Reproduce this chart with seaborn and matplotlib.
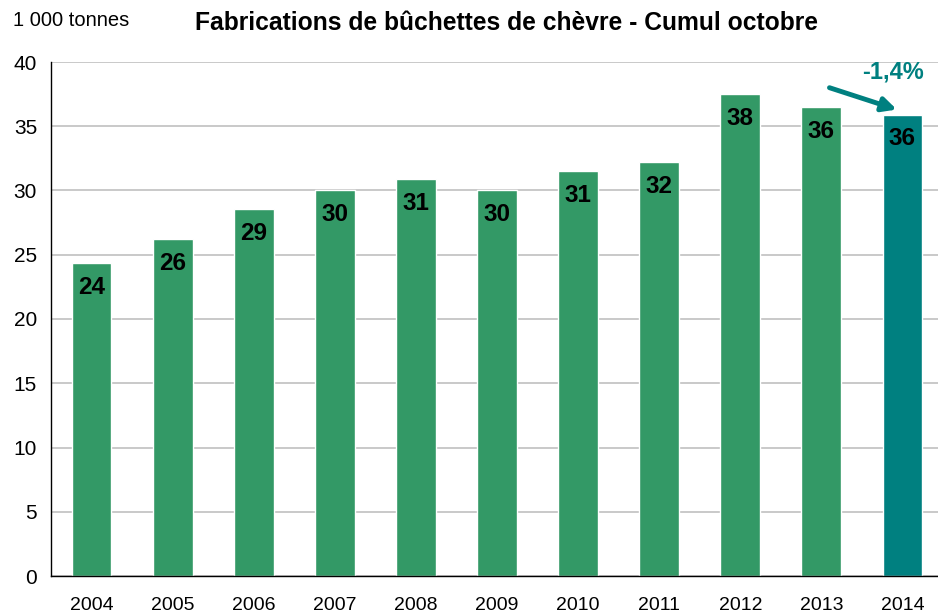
import matplotlib
matplotlib.use("Agg")
import matplotlib.pyplot as plt
import seaborn as sns
import pandas as pd

years = ["2004", "2005", "2006", "2007", "2008", "2009", "2010", "2011", "2012", "2013", "2014"]
values = [24.35, 26.2, 28.55, 30.0, 30.9, 30.0, 31.5, 32.2, 37.5, 36.5, 35.9]
labels = ["24", "26", "29", "30", "31", "30", "31", "32", "38", "36", "36"]
colors = ["#339966"] * 10 + ["#008080"]

sns.set_theme(style="white")
plt.rcParams['font.family'] = ['Liberation Sans', 'DejaVu Sans']

df = pd.DataFrame({"year": years, "value": values})
fig = plt.figure(figsize=(9.38, 6.16), dpi=100)
ax = fig.add_axes([51/938, 1 - 576/616, 892/938, (576 - 62)/616])

sns.barplot(data=df, x="year", y="value", hue="year", palette=colors,
            width=0.49, legend=False, ax=ax, saturation=1)

ax.set_ylim(0, 40)
ax.set_xlim(-0.5, 10.5)
ax.set_yticks(range(0, 41, 5))
ax.yaxis.grid(True, color="#c0c0c0", linewidth=1.2)
ax.set_axisbelow(True)
ax.set_xlabel("")
ax.set_ylabel("")
for s in ["top", "right"]:
    ax.spines[s].set_visible(False)
ax.spines["left"].set_color("black")
ax.spines["bottom"].set_color("black")
ax.spines["left"].set_linewidth(1)
ax.spines["bottom"].set_linewidth(1)

ax.set_xticks([i + 0.5 for i in range(-1, 11)], minor=True)
ax.tick_params(axis="x", which="minor", length=6, color="black", width=1, direction="out")
ax.tick_params(axis="x", which="major", length=0, labelsize=14, pad=15, colors="black")
ax.tick_params(axis="y", which="major", length=6, color="black", width=1, labelsize=15,
               direction="out", colors="black", pad=4)
for lbl in ax.get_yticklabels():
    lbl.set_color("black")

for i, (v, t) in enumerate(zip(values, labels)):
    ax.annotate(t, xy=(i, v), xytext=(0, -17.5), textcoords="offset points",
                ha="center", va="center", fontsize=17.5, fontweight="bold", color="black")

ax.annotate("", xy=(9.93, 36.3), xytext=(9.1, 38.0),
            arrowprops=dict(arrowstyle="-|>,head_length=0.7,head_width=0.35",
                            color="#008080", lw=3.5, shrinkA=0, shrinkB=0))
ax.text(9.88, 39.2, "-1,4%", ha="center", va="center", fontsize=17,
        fontweight="bold", color="#008080")

fig.text(195/938, 1 - 23/616, "Fabrications de bûchettes de chèvre - Cumul octobre",
         ha="left", va="center", fontsize=17.7, fontweight="bold", color="black")
fig.text(13/938, 1 - 20/616, "1 000 tonnes", ha="left", va="center", fontsize=14.5,
         color="black")

fig.savefig("out.png", dpi=100)
